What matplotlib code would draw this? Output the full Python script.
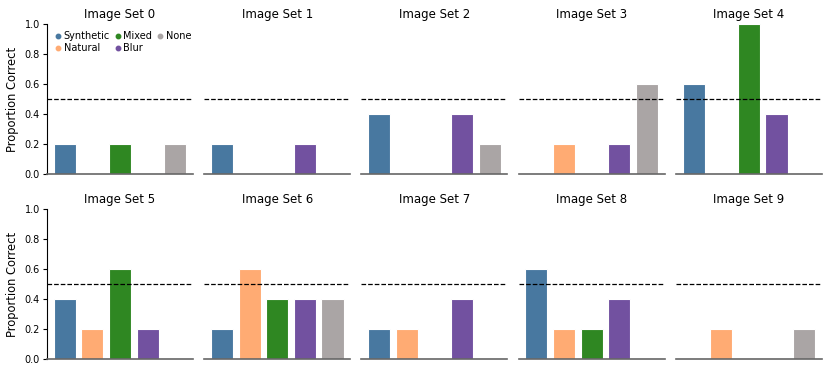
import matplotlib
matplotlib.use("Agg")
import matplotlib.pyplot as plt
from matplotlib.lines import Line2D

categories = ["Synthetic", "Natural", "Mixed", "Blur", "None"]
colors = ["#4878a0", "#ffab73", "#2f8722", "#7251a0", "#aaa5a5"]
titles = [f"Image Set {i}" for i in range(10)]
values = [
    [0.2, 0.0, 0.2, 0.0, 0.2],
    [0.2, 0.0, 0.0, 0.2, 0.0],
    [0.4, 0.0, 0.0, 0.4, 0.2],
    [0.0, 0.2, 0.0, 0.2, 0.6],
    [0.6, 0.0, 1.0, 0.4, 0.0],
    [0.4, 0.2, 0.6, 0.2, 0.0],
    [0.2, 0.6, 0.4, 0.4, 0.4],
    [0.2, 0.2, 0.0, 0.4, 0.0],
    [0.6, 0.2, 0.2, 0.4, 0.0],
    [0.0, 0.2, 0.0, 0.0, 0.2],
]
chance = 0.5

fig, axes = plt.subplots(2, 5, figsize=(8.31, 3.73), dpi=100, sharey=True)
fig.subplots_adjust(left=0.0566, right=0.989, top=0.9357, bottom=0.0375,
                    wspace=0.077, hspace=0.233)

for i, ax in enumerate(axes.flat):
    x = list(range(len(categories)))
    ax.bar(x, values[i], width=0.8, color=colors, edgecolor="white", linewidth=0.8)
    ax.axhline(chance, color="black", linestyle="--", linewidth=0.9)
    ax.set_title(titles[i], fontsize=8.5, pad=4)
    ax.set_ylim(0, 1.0)
    ax.set_xticks([])
    for s in ["top", "right"]:
        ax.spines[s].set_visible(False)
    ax.spines["bottom"].set_color("#666666")
    ax.spines["bottom"].set_linewidth(1.2)
    if i % 5 == 0:
        ax.set_ylabel("Proportion Correct", fontsize=8.3)
        ax.tick_params(axis="y", labelsize=7, length=3, width=0.8, pad=2)
        ax.set_yticks([0, 0.2, 0.4, 0.6, 0.8, 1.0])
        ax.spines["left"].set_linewidth(0.8)
    else:
        ax.spines["left"].set_visible(False)
        ax.tick_params(axis="y", left=False, labelleft=False)

handles = [Line2D([0], [0], marker="o", linestyle="", markersize=3.2,
                  markerfacecolor=c, markeredgecolor=c) for c in colors]
axes[0, 0].legend(handles, categories, ncol=3, fontsize=7, frameon=False,
                  loc="upper left", bbox_to_anchor=(0.0, 0.99),
                  handletextpad=0.1, columnspacing=0.3, handlelength=1.0,
                  labelspacing=0.2, borderaxespad=0.2)

fig.savefig("out.png", dpi=100)
